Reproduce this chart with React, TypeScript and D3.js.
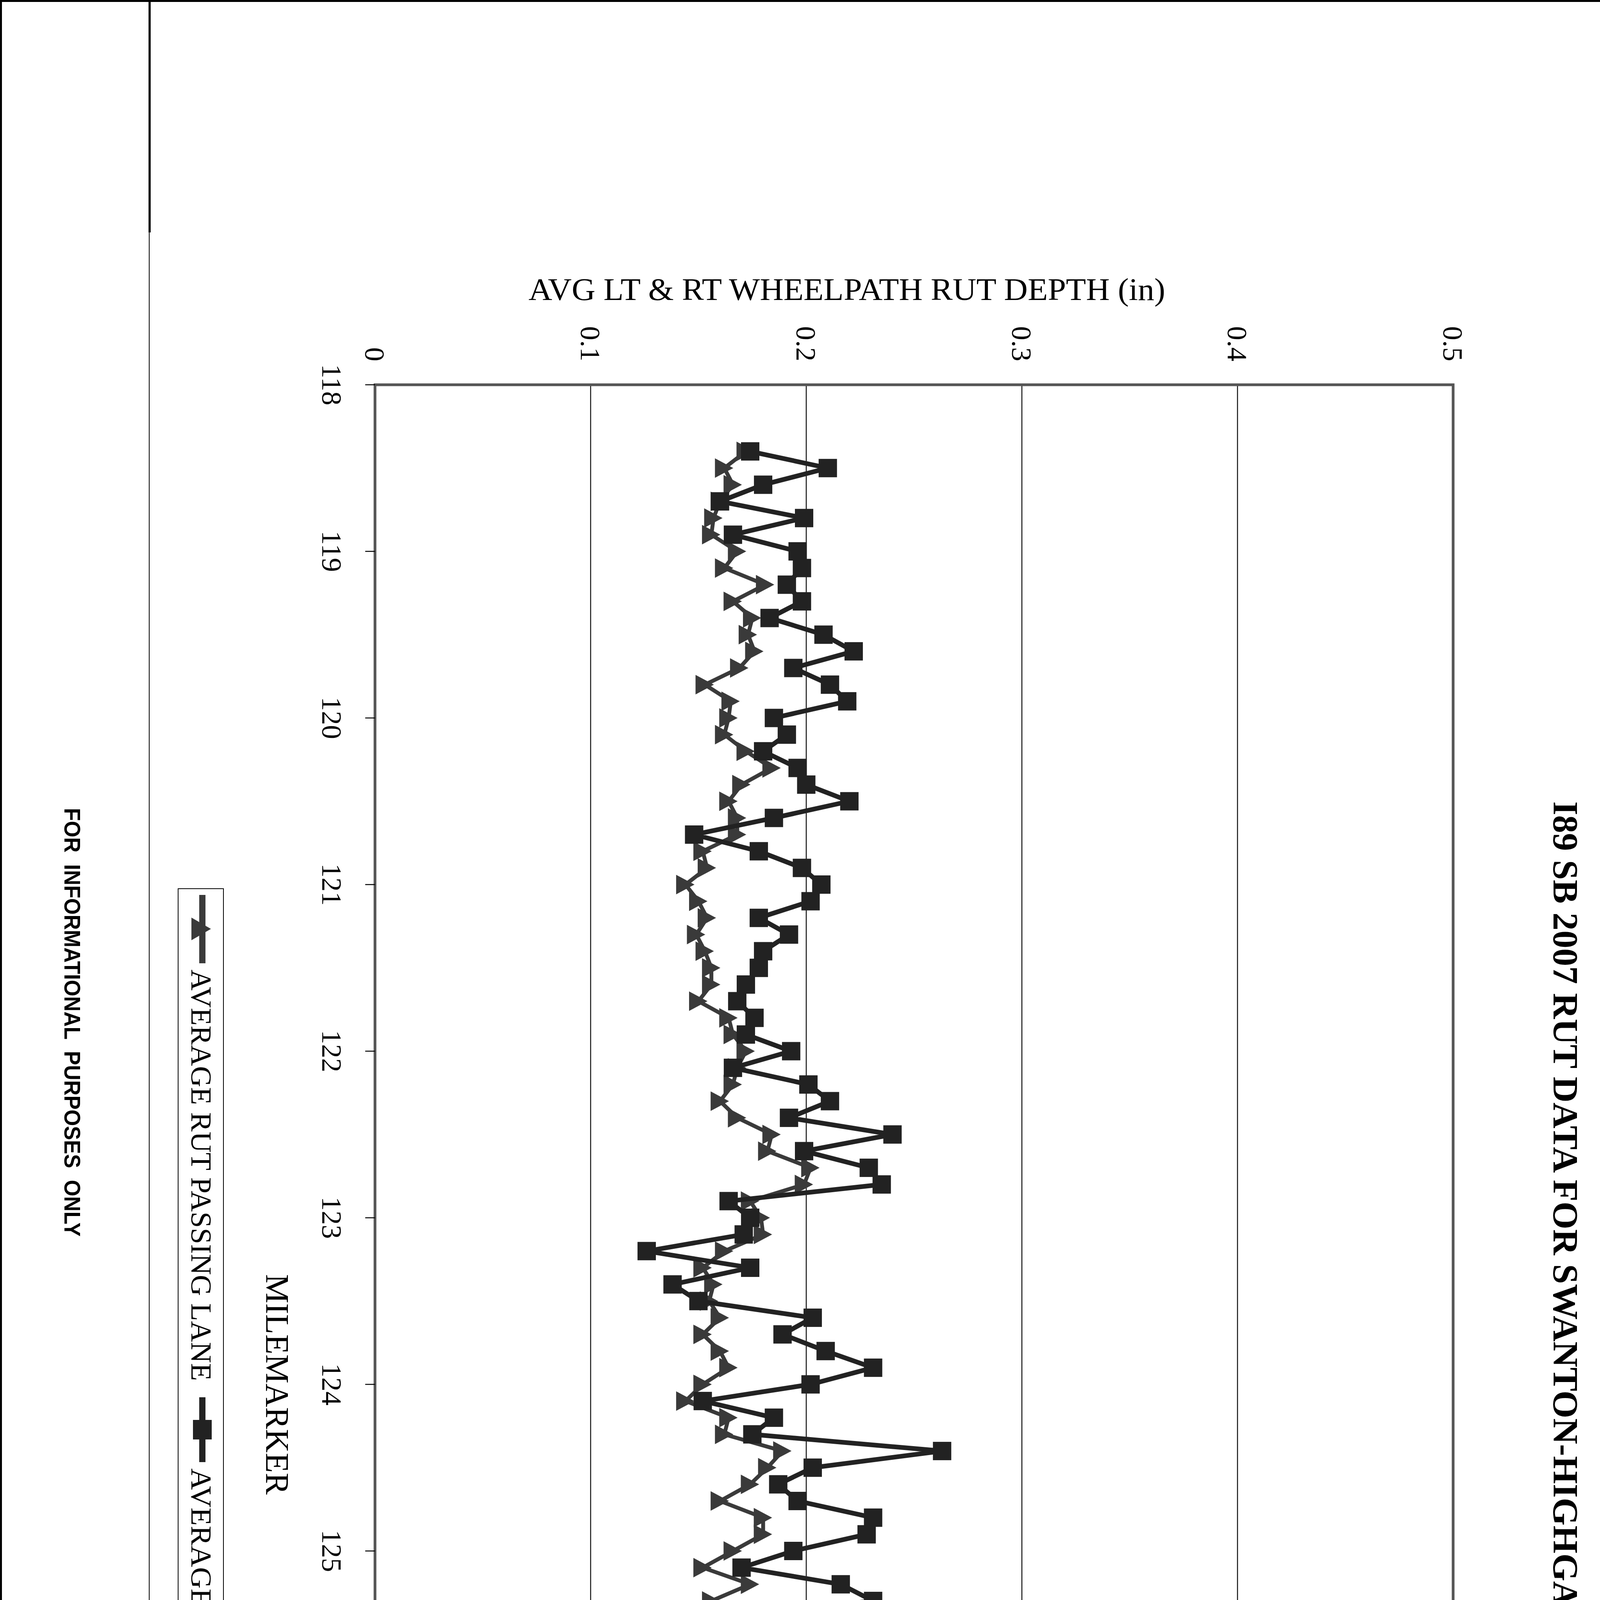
import { scaleLinear, line } from 'd3';

/**
 * I89 SB 2007 rut data sheet. The chart sits sideways on a portrait
 * sheet, so everything chart-related is laid out in a landscape frame
 * (lx along the sheet's height, ly across its width) and turned 90°.
 */

const PAGE_W = 4204;
const PAGE_H = 6801;

// ── Data ──
const MILES = [
  118.4, 118.5, 118.6, 118.7, 118.8, 118.9,
  119.0, 119.1, 119.2, 119.3, 119.4, 119.5, 119.6, 119.7, 119.8, 119.9,
  120.0, 120.1, 120.2, 120.3, 120.4, 120.5, 120.6, 120.7, 120.8, 120.9,
  121.0, 121.1, 121.2, 121.3, 121.4, 121.5, 121.6, 121.7, 121.8, 121.9,
  122.0, 122.1, 122.2, 122.3, 122.4, 122.5, 122.6, 122.7, 122.8, 122.9,
  123.0, 123.1, 123.2, 123.3, 123.4, 123.5, 123.6, 123.7, 123.8, 123.9,
  124.0, 124.1, 124.2, 124.3, 124.4, 124.5, 124.6, 124.7, 124.8, 124.9,
  125.0, 125.1, 125.2, 125.3, 125.4, 125.5, 125.6, 125.7, 125.8, 125.9,
  126.0, 126.1, 126.2, 126.3, 126.4, 126.5, 126.6, 126.7, 126.8, 126.9,
  127.0, 127.1, 127.2, 127.3, 127.4, 127.5, 127.6, 127.7, 127.8, 127.9,
  128.0, 128.1, 128.2, 128.3, 128.4, 128.5, 128.6, 128.7, 128.8, 128.9,
  129.0, 129.1, 129.2, 129.3, 129.4, 129.5, 129.6,
];

const PASSING = [
  0.172, 0.162, 0.166, 0.160, 0.157, 0.156,
  0.168, 0.162, 0.181, 0.166, 0.175, 0.173, 0.176, 0.169, 0.153, 0.165,
  0.164, 0.162, 0.172, 0.184, 0.170, 0.164, 0.168, 0.168, 0.152, 0.154,
  0.144, 0.150, 0.154, 0.149, 0.153, 0.156, 0.156, 0.150, 0.164, 0.166,
  0.172, 0.168, 0.166, 0.160, 0.168, 0.184, 0.182, 0.202, 0.199, 0.174,
  0.179, 0.180, 0.162, 0.152, 0.157, 0.155, 0.160, 0.152, 0.160, 0.164,
  0.152, 0.144, 0.164, 0.162, 0.189, 0.182, 0.174, 0.160, 0.180, 0.180,
  0.166, 0.152, 0.174, 0.156, 0.174, 0.164, 0.156, 0.159, 0.150, 0.152,
  0.154, 0.160, 0.152, 0.150, 0.160, 0.158, 0.154, 0.160, 0.148, 0.140,
  0.144, 0.154, 0.154, 0.148, 0.142, 0.146, 0.150, 0.152, 0.148, 0.146,
  0.144, 0.132, 0.146, 0.150, 0.140, 0.140, 0.143, 0.149, 0.148, 0.154,
  0.144, 0.154, 0.140, 0.156, 0.146, 0.156, 0.137,
];

const TRAVEL = [
  0.174, 0.210, 0.180, 0.160, 0.199, 0.166,
  0.196, 0.198, 0.191, 0.198, 0.183, 0.208, 0.222, 0.194, 0.211, 0.219,
  0.185, 0.191, 0.180, 0.196, 0.200, 0.220, 0.185, 0.148, 0.178, 0.198,
  0.207, 0.202, 0.178, 0.192, 0.180, 0.178, 0.172, 0.168, 0.176, 0.172,
  0.193, 0.166, 0.201, 0.211, 0.192, 0.240, 0.199, 0.229, 0.235, 0.164,
  0.174, 0.171, 0.126, 0.174, 0.138, 0.150, 0.203, 0.189, 0.209, 0.231,
  0.202, 0.152, 0.185, 0.175, 0.263, 0.203, 0.187, 0.196, 0.231, 0.228,
  0.194, 0.170, 0.216, 0.231, 0.156, 0.206, 0.202, 0.166, 0.194, 0.192,
  0.178, 0.172, 0.170, 0.159, 0.168, 0.189, 0.185, 0.210, 0.188, 0.227,
  0.166, 0.192, 0.180, 0.196, 0.207, 0.225, 0.196, 0.215, 0.176, 0.168,
  0.188, 0.183, 0.161, 0.176, 0.280, 0.181, 0.144, 0.148, 0.140, 0.163,
  0.170, 0.140, 0.130, 0.096, 0.126, 0.118, 0.146,
];

const MILE_TICKS   = [118, 119, 120, 121, 122, 123, 124, 125, 126, 127, 128, 129, 130];
const DEPTH_TICKS  = [0, 0.1, 0.2, 0.3, 0.4, 0.5];
const DEPTH_LABELS = ['0', '0.1', '0.2', '0.3', '0.4', '0.5'];
const SERIES_NAMES = ['AVERAGE RUT PASSING LANE', 'AVERAGE RUT TRAVEL LANE'];

// ── Layout (landscape frame) ──
const PLOT = { left: 985, right: 6103, top: 484, bottom: 3244 };

const SERIF = "'Liberation Serif', 'Times New Roman', serif";
const BLOCK = "'DejaVu Sans Condensed', 'DejaVu Sans', sans-serif";
const CAD   = "'Liberation Sans', Arial, sans-serif";

const PASS_COLOR   = '#3a3a3a';
const TRAVEL_COLOR = '#222222';

const TRI = 'M0,-23 L25,24 L-25,24 Z';

export default function App() {
  const x = scaleLinear().domain([118, 130]).range([PLOT.left, PLOT.right]);
  const y = scaleLinear().domain([0, 0.5]).range([PLOT.bottom, PLOT.top]);

  const passPts   = MILES.map((m, i) => [x(m), y(PASSING[i])] as [number, number]);
  const travelPts = MILES.map((m, i) => [x(m), y(TRAVEL[i])] as [number, number]);
  const path = line();

  const small = (txt: string, lx: number, ly: number, len: number, fs = 37) => (
    <text
      x={lx} y={ly} fontFamily={CAD} fontSize={fs} fill="#000"
      textLength={len} lengthAdjust="spacingAndGlyphs" style={{ whiteSpace: 'pre' }}
    >
      {txt}
    </text>
  );

  const big = (txt: string, lx: number, ly: number, len: number) => (
    <text
      x={lx} y={ly} textAnchor="middle" fontFamily={BLOCK} fontWeight="bold"
      fontSize={68} fill="#000" textLength={len} lengthAdjust="spacingAndGlyphs"
    >
      {txt}
    </text>
  );

  return (
    <>
      <style>{'body{margin:0}'}</style>
      <svg width={PAGE_W} height={PAGE_H} style={{ display: 'block', background: '#fff' }}>
        <rect x={0} y={0} width={PAGE_W} height={PAGE_H} fill="#fff" />

        {/* Sheet border and left strip */}
        <rect x={2.5} y={2.5} width={PAGE_W - 5} height={PAGE_H - 5} fill="none" stroke="#000" strokeWidth={5} />
        <line x1={383} x2={383} y1={0} y2={595} stroke="#000" strokeWidth={5.5} />
        <line x1={382} x2={382} y1={595} y2={6200} stroke="#000" strokeWidth={2} />
        <line x1={385} x2={385} y1={6200} y2={PAGE_H} stroke="#000" strokeWidth={3.5} />

        {/* Title block rules */}
        <line x1={0} x2={383} y1={4787} y2={4787} stroke="#000" strokeWidth={5} />
        <line x1={0} x2={383} y1={5340} y2={5340} stroke="#000" strokeWidth={5} />
        <line x1={227} x2={227} y1={5340} y2={PAGE_H} stroke="#000" strokeWidth={4} />

        {/* Axis title reads across the sheet */}
        <text
          x={1353} y={768} fontFamily={SERIF} fontSize={80} fill="#000"
          textLength={1630} lengthAdjust="spacingAndGlyphs"
        >
          AVG LT &amp; RT WHEELPATH RUT DEPTH (in)
        </text>

        <g transform={`translate(${PAGE_W},0) rotate(90)`}>
          {/* Chart title */}
          <text
            x={3397} y={227} textAnchor="middle" fontFamily={SERIF} fontWeight="bold"
            fontSize={90} fill="#000" textLength={2691} lengthAdjust="spacingAndGlyphs"
          >
            I89 SB 2007 RUT DATA FOR SWANTON-HIGHGATE IM SURF(5)
          </text>

          {/* Gridlines */}
          {DEPTH_TICKS.slice(1, -1).map((d) => (
            <line key={d} x1={PLOT.left} x2={PLOT.right} y1={y(d)} y2={y(d)} stroke="#111" strokeWidth={2.5} />
          ))}

          {/* Plot frame */}
          <rect
            x={PLOT.left} y={PLOT.top} width={PLOT.right - PLOT.left} height={PLOT.bottom - PLOT.top}
            fill="none" stroke="#555" strokeWidth={7}
          />

          {/* Depth axis labels */}
          {DEPTH_TICKS.map((d, i) => (
            <text key={d} x={925} y={y(d)} dy="0.35em" textAnchor="end" fontFamily={SERIF} fontSize={72} fill="#000">
              {DEPTH_LABELS[i]}
            </text>
          ))}

          {/* Milemarker axis */}
          {MILE_TICKS.map((m) => (
            <g key={m}>
              <line x1={x(m)} x2={x(m)} y1={PLOT.bottom} y2={PLOT.bottom + 25} stroke="#000" strokeWidth={2.5} />
              <text x={x(m)} y={3379} textAnchor="middle" fontFamily={SERIF} fontSize={72} fill="#000">
                {m}
              </text>
            </g>
          ))}
          <text x={(PLOT.left + PLOT.right) / 2} y={3523} textAnchor="middle" fontFamily={SERIF} fontSize={84} fill="#000">
            MILEMARKER
          </text>

          {/* Passing lane (triangles) */}
          <path d={path(passPts) ?? ''} fill="none" stroke={PASS_COLOR} strokeWidth={10} strokeLinejoin="round" />
          {passPts.map(([px, py], i) => (
            <path key={`p${i}`} d={TRI} transform={`translate(${px},${py})`} fill={PASS_COLOR} />
          ))}

          {/* Travel lane (squares) */}
          <path d={path(travelPts) ?? ''} fill="none" stroke={TRAVEL_COLOR} strokeWidth={12} strokeLinejoin="round" />
          {travelPts.map(([px, py], i) => (
            <rect key={`t${i}`} x={px - 23.5} y={py - 23.5} width={47} height={47} fill={TRAVEL_COLOR} />
          ))}

          {/* Legend */}
          <rect x={2275} y={3632} width={2554} height={116} fill="#fff" stroke="#000" strokeWidth={2} />
          <line x1={2291} x2={2466} y1={3686} y2={3686} stroke={PASS_COLOR} strokeWidth={16} />
          <path d="M0,-25 L29,25 L-29,25 Z" transform="translate(2378,3689)" fill={PASS_COLOR} />
          <text x={2482} y={3714} fontFamily={SERIF} fontSize={73} fill="#000" textLength={1053} lengthAdjust="spacingAndGlyphs">
            {SERIES_NAMES[0]}
          </text>
          <line x1={3577} x2={3743} y1={3686} y2={3686} stroke={TRAVEL_COLOR} strokeWidth={16} />
          <rect x={3660 - 25} y={3686 - 24} width={50} height={48} fill={TRAVEL_COLOR} />
          <text x={3759} y={3714} fontFamily={SERIF} fontSize={73} fill="#000" textLength={1053} lengthAdjust="spacingAndGlyphs">
            {SERIES_NAMES[1]}
          </text>

          {/* Left strip notice */}
          <text
            x={2617} y={4039} textAnchor="middle" fontFamily={CAD} fontWeight="bold" fontSize={58}
            fill="#000" textLength={1097} lengthAdjust="spacingAndGlyphs" style={{ whiteSpace: 'pre' }}
          >
            FOR  INFORMATIONAL  PURPOSES  ONLY
          </text>

          {/* Title block */}
          {big('RUTTING', 5062, 3907, 295)}
          {big('DATA', 5058, 3997, 181)}
          {big('INFORMATION', 5062, 4086, 483)}
          {big('SHEET', 5058, 4177, 205)}

          {small('PROJECT NAME:', 5377, 3872, 281)}
          {small('SWANTON - HIGHGATE', 5859, 3882, 643, 58)}
          {small('PROJECT NUMBER:', 5377, 3944, 328)}
          {small('IM SURF (5)', 5859, 3949, 362, 58)}
          {small('FILE NAME:...07A278\\...07A278.dgn', 5377, 4027, 656)}
          {small('PLOT DATE: 11-FEB-2009', 6234, 4027, 462)}
          {small('PROJECT LEADER:  DOWEY', 5377, 4079, 489)}
          {small('DRAWN BY:  HUNT', 6234, 4079, 335)}
          {small('DESIGNED BY:  HUNT', 5377, 4129, 388)}
          {small('CHECKED BY:  PAVT MGMT', 6234, 4129, 496)}
          {small('IPARM FILE NAME:  07A278rud.l', 5377, 4179, 616)}
          {small('SHEET   14   OF   14', 6234, 4179, 416)}
        </g>
      </svg>
    </>
  );
}
